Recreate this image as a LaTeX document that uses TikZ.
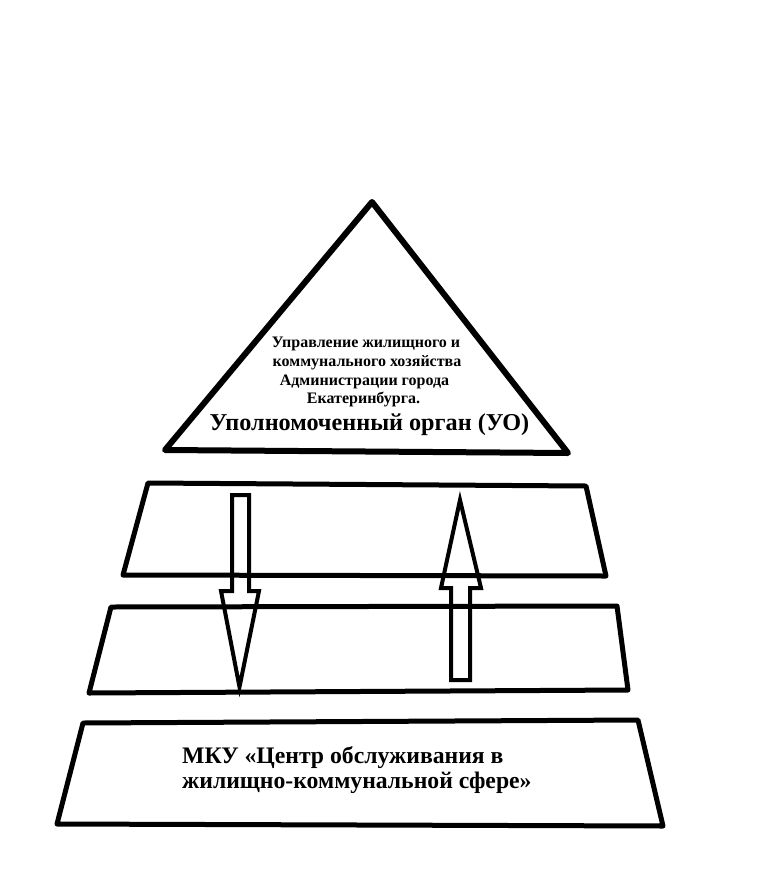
\documentclass[tikz,border=0pt]{standalone}
\usepackage{fontspec}
\setmainfont{Liberation Serif}[BoldFont={Liberation Serif Bold}]
\newfontfamily\tnr{Liberation Serif}[BoldFont={Liberation Serif Bold}]
\begin{document}
\begin{tikzpicture}[x=1pt,y=-1pt,
  outl/.style={draw=black,line width=5pt,line join=round,line cap=round},
  tri/.style={draw=black,line width=6pt,line join=round},
  arr/.style={draw=black,line width=4pt,line join=miter},
  small/.style={font=\tnr\bfseries\fontsize{16}{19}\selectfont,inner sep=0pt,anchor=base},
  big/.style={font=\tnr\bfseries\fontsize{24.2}{25}\selectfont,inner sep=0pt},
  bot/.style={font=\tnr\bfseries\fontsize{23.7}{25}\selectfont,inner sep=0pt,anchor=base west}]
\useasboundingbox (0,0) rectangle (783,879);
% pyramid top
\draw[tri] (372,202) -- (568,453) -- (165,450) -- cycle;
% layers
\draw[outl] (148,483) -- (586,486) -- (606,576) -- (123,575) -- cycle;
\draw[outl] (111,607) -- (617,606) -- (628,690) -- (89,693) -- cycle;
\draw[outl] (83,723) -- (638,720) -- (663,826) -- (57,824) -- cycle;
% arrows
\draw[arr] (232,495) -- (249,495) -- (249,591) -- (259,591) -- (239.5,687) -- (221,591) -- (232,591) -- cycle;
\draw[arr] (460,500) -- (481,588) -- (470,588) -- (470,680) -- (451,680) -- (451,588) -- (441,588) -- cycle;
% texts
\node[small] (t1) at (366,347) {Управление жилищного и};
\node[small] (t2) at (367,366) {коммунального хозяйства};
\node[small] (t3) at (364.5,385) {Администрации города};
\node[small] (t4) at (363.5,403) {Екатеринбурга.};
\node[big,anchor=base] (t5) at (369.5,430) {Уполномоченный орган (УО)};
\node[bot] (b1) at (182,763) {МКУ «Центр обслуживания в};
\node[bot] (b2) at (182,788) {жилищно-коммунальной сфере»};
\end{tikzpicture}
\end{document}
